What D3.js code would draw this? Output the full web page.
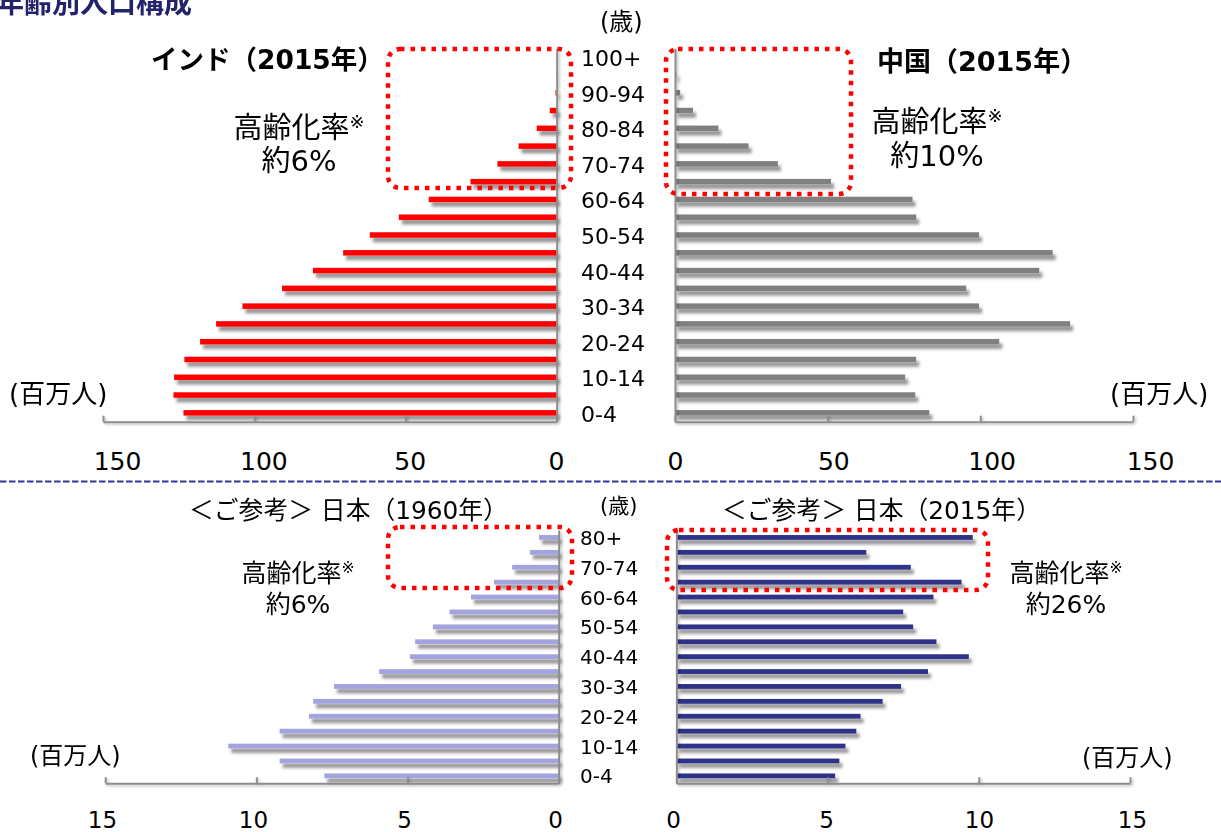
<!DOCTYPE html>
<html>
<head>
<meta charset="utf-8">
<script src="https://cdn.jsdelivr.net/npm/d3@7"></script>
<style>
  body { margin: 0; background: #fff; }
  text { font-family: "DejaVu Sans", "Noto Sans CJK JP", sans-serif; }
</style>
</head>
<body>
<script>
"use strict";

// age groups, bottom to top
let agesTop = ["0-4","5-9","10-14","15-19","20-24","25-29","30-34","35-39","40-44","45-49",
  "50-54","55-59","60-64","65-69","70-74","75-79","80-84","85-89","90-94","95-99","100+"];
let agesBottom = ["0-4","5-9","10-14","15-19","20-24","25-29","30-34","35-39","40-44","45-49",
  "50-54","55-59","60-64","65-69","70-74","75-79","80+"];

// population, millions
let india2015 = [123.4, 126.7, 126.5, 123.1, 117.9, 112.6, 103.9, 90.8, 80.6, 70.6,
  61.8, 52.2, 42.3, 28.5, 19.6, 12.6, 6.6, 2.3, 0.4, 0.1, 0.02];
let china2015 = [83.3, 78.7, 75.4, 79.0, 106.2, 129.4, 99.6, 95.4, 119.3, 123.7,
  99.6, 79.0, 77.8, 51.1, 33.7, 24.1, 14.2, 5.9, 1.7, 0.5, 0.05];
let japan1960 = [7.75, 9.23, 10.93, 9.23, 8.26, 8.12, 7.43, 5.94, 4.92, 4.75,
  4.16, 3.61, 2.90, 2.14, 1.54, 0.95, 0.65];
let japan2015 = [5.25, 5.39, 5.59, 5.95, 6.09, 6.82, 7.43, 8.32, 9.67, 8.60,
  7.83, 7.50, 8.50, 9.43, 7.75, 6.28, 9.80];

let ticksTop = [0, 50, 100, 150];
let ticksBottom = [0, 5, 10, 15];

let width = 1221;
let height = 832;

let svg = d3.select("body").append("svg").attr("width", width).attr("height", height);

let defs = svg.append("defs");
let f = defs.append("filter").attr("id", "shadow")
  .attr("x", "-5%").attr("y", "-100%").attr("width", "115%").attr("height", "400%");
f.append("feDropShadow").attr("dx", 3).attr("dy", 4.5).attr("stdDeviation", 1.7)
  .attr("flood-color", "#000").attr("flood-opacity", 0.42);
let f2 = defs.append("filter").attr("id", "lineshadow")
  .attr("x", "-20%").attr("y", "-20%").attr("width", "140%").attr("height", "140%");
f2.append("feDropShadow").attr("dx", 1.5).attr("dy", 1.5).attr("stdDeviation", 1)
  .attr("flood-color", "#000").attr("flood-opacity", 0.25);

// scales
let xIndia = d3.scaleLinear().domain([0, 150]).range([556.7, 103]);
let xChina = d3.scaleLinear().domain([0, 150]).range([675, 1133]);
let yTop = d3.scaleBand().domain(agesTop.slice().reverse()).range([48.3, 421.7]);
let xJp60 = d3.scaleLinear().domain([0, 15]).range([558.7, 105.2]);
let xJp15 = d3.scaleLinear().domain([0, 15]).range([676.4, 1130]);
let yBot = d3.scaleBand().domain(agesBottom.slice().reverse()).range([530, 783.3]);

// tick labels sit a bit off the ticks in the original
let xIndiaLbl = d3.scaleLinear().domain([0, 150]).range([556, 117]);
let xChinaLbl = d3.scaleLinear().domain([0, 150]).range([675, 1150]);
let xJp60Lbl = d3.scaleLinear().domain([0, 15]).range([555, 102]);
let xJp15Lbl = d3.scaleLinear().domain([0, 15]).range([673, 1132]);

function drawBars(vals, ages, x, y, color, thick, left) {
  let g = svg.append("g").attr("filter", "url(#shadow)");
  g.selectAll("rect")
    .data(vals)
    .enter()
    .append("rect")
      .attr("x", function(d) { return left ? x(d) : x(0); })
      .attr("y", function(d, i) { return y(ages[i]) + y.bandwidth() / 2 - thick / 2; })
      .attr("width", function(d) { return Math.abs(x(d) - x(0)); })
      .attr("height", thick)
      .attr("fill", color);
}

function drawAxes(x, y, ticks, lblScale, lblY, fontSize) {
  let base = y.range()[1];
  let g = svg.append("g").attr("filter", "url(#lineshadow)");
  g.append("g")
    .attr("transform", "translate(0," + base + ")")
    .call(d3.axisBottom(x).tickValues(ticks).tickSize(-6).tickSizeOuter(0).tickFormat(""))
    .call(function(a) {
      a.selectAll("path,line").attr("stroke", "#8c8c8c").attr("stroke-width", 2);
    });
  g.append("g")
    .attr("transform", "translate(" + x(0) + ",0)")
    .call(d3.axisLeft(y).tickValues([]).tickSizeOuter(0))
    .call(function(a) {
      a.select("path").attr("stroke", "#8c8c8c").attr("stroke-width", 2);
    });
  let lab = svg.append("g")
    .attr("transform", "translate(0," + lblY + ")")
    .call(d3.axisBottom(lblScale).tickValues(ticks).tickSize(0).tickPadding(0));
  lab.select(".domain").remove();
  lab.selectAll("text")
    .attr("dy", 0).attr("y", 0)
    .style("font-family", '"DejaVu Sans", "Noto Sans CJK JP", sans-serif')
    .style("font-size", fontSize + "px")
    .attr("fill", "#000");
}

drawBars(india2015, agesTop, xIndia, yTop, "#ff0000", 5.5, true);
drawBars(china2015, agesTop, xChina, yTop, "#808080", 5.5, false);
drawBars(japan1960, agesBottom, xJp60, yBot, "#a3a3de", 4.8, true);
drawBars(japan2015, agesBottom, xJp15, yBot, "#2e3089", 4.8, false);

drawAxes(xIndia, yTop, ticksTop, xIndiaLbl, 470, 25);
drawAxes(xChina, yTop, ticksTop, xChinaLbl, 470, 25);
drawAxes(xJp60, yBot, ticksBottom, xJp60Lbl, 828, 23);
drawAxes(xJp15, yBot, ticksBottom, xJp15Lbl, 828, 23);

// age labels, every other group
svg.append("g").selectAll("text")
  .data(agesTop.filter(function(d, i) { return i % 2 === 0; }))
  .enter()
  .append("text")
    .attr("x", 581)
    .attr("y", function(d) { return yTop(d) + yTop.bandwidth() / 2 + 9; })
    .style("font-size", "22px")
    .text(function(d) { return d; });

svg.append("g").selectAll("text")
  .data(agesBottom.filter(function(d, i) { return i % 2 === 0; }))
  .enter()
  .append("text")
    .attr("x", 580)
    .attr("y", function(d) { return yBot(d) + yBot.bandwidth() / 2 + 7.5; })
    .style("font-size", "20px")
    .text(function(d) { return d; });

function label(x, y, txt, size, opts) {
  opts = opts || {};
  return svg.append("text")
    .attr("x", x).attr("y", y)
    .attr("text-anchor", opts.anchor || "start")
    .style("font-size", size + "px")
    .style("font-weight", opts.bold ? "bold" : "normal")
    .attr("fill", opts.fill || "#000")
    .text(txt);
}

// headline, cut at the left edge in the original
label(-4, 13, "年齢別人口構成", 28, { bold: true, fill: "#23236c" });

label(151, 69, "インド（2015年）", 26.5, { bold: true });
label(877, 71, "中国（2015年）", 27, { bold: true });
label(600, 30, "(歳)", 24);
label(600, 513, "(歳)", 21);

function aging(cx, y1, y2, rate, size) {
  let t = label(cx, y1, "高齢化率", size, { anchor: "middle" });
  t.append("tspan").attr("dy", -size * 0.35).style("font-size", (size * 0.62) + "px").text("※");
  label(cx, y2, "約" + rate + "%", size, { anchor: "middle" });
}
aging(299, 138, 171, 6, 29);
aging(937, 132, 166, 10, 29);
aging(298, 582, 613, 6, 25);
aging(1066, 582, 613, 26, 25);

label(9, 403, "(百万人)", 26);
label(1110, 403, "(百万人)", 26);
label(30, 764, "(百万人)", 24);
label(1082, 766, "(百万人)", 24);

label(189, 519, "＜ご参考＞ 日本（1960年）", 24.8);
label(722, 519, "＜ご参考＞ 日本（2015年）", 24.8);

// separator
svg.append("line")
  .attr("x1", 0).attr("x2", width).attr("y1", 481.5).attr("y2", 481.5)
  .attr("stroke", "#34339a").attr("stroke-width", 2).attr("stroke-dasharray", "6.5 2.5");

// dotted highlight boxes
let boxes = [
  { x: 388, y: 49, w: 183, h: 139 },
  { x: 666, y: 49, w: 185, h: 145 },
  { x: 388, y: 527, w: 184, h: 61 },
  { x: 667, y: 530, w: 321, h: 60 }
];
svg.append("g").selectAll("rect")
  .data(boxes)
  .enter()
  .append("rect")
    .attr("x", function(d) { return d.x; })
    .attr("y", function(d) { return d.y; })
    .attr("width", function(d) { return d.w; })
    .attr("height", function(d) { return d.h; })
    .attr("rx", 12)
    .attr("fill", "none")
    .attr("stroke", "#ff0000")
    .attr("stroke-width", 4.5)
    .attr("stroke-dasharray", "4.5 6");
</script>
</body>
</html>
